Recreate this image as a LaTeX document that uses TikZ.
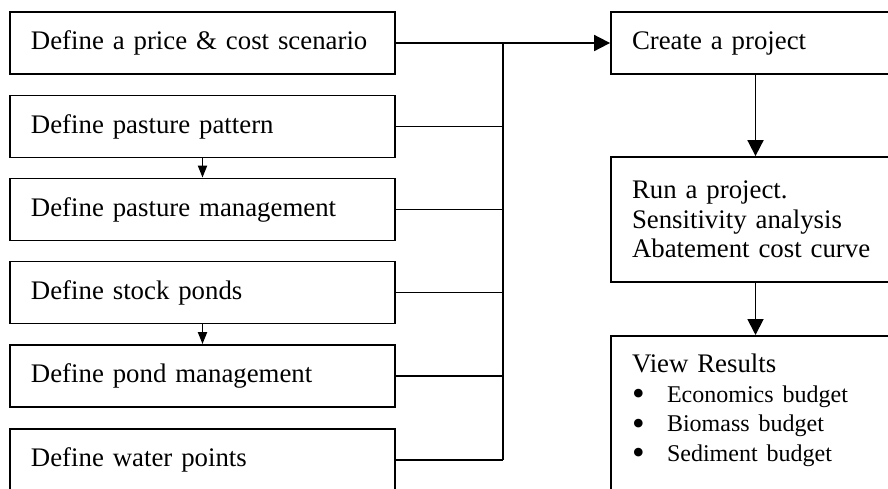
\documentclass[tikz,border=0pt]{standalone}
\usepackage{fontspec}
\usepackage{graphicx}
\setmainfont{Liberation Serif}
\usetikzlibrary{arrows.meta}
\begin{document}
\begin{tikzpicture}[x=0.5pt,y=-0.5pt]
    \tikzstyle{block}=[draw,line width=0.9pt,align=left,inner xsep=10.5pt,inner ysep=0pt,font=\fontsize{13.4}{14.75}\selectfont]
    \tikzstyle{left block}=[block,text width=171.5pt,minimum height=31pt]
    \tikzstyle{right block}=[block,text width=123.5pt]
    \tikzstyle{link}=[line width=0.9pt]
    \tikzstyle{big arrow}=[link,-{Triangle[length=8pt,width=8pt]}]
    \tikzstyle{small arrow}=[link,-{Triangle[length=6pt,width=4.5pt]}]
    \newcommand{\listitem}[1]{{\fontsize{12}{14.75}\selectfont\makebox[17.5pt][l]{\smash{\raisebox{-1.8pt}{\scalebox{1.5}{\textbullet}}}}#1}}

    \useasboundingbox (0,0) rectangle (888,488);
    \clip (0,0) rectangle (888,488);

    \node[left block] (price) at (202.5,43) {Define a price \& cost scenario};
    \node[left block] (pattern) at (202.5,126.5) {Define pasture pattern};
    \node[left block] (pasture_mgmt) at (202.5,209.5) {Define pasture management};
    \node[left block] (ponds) at (202.5,292.5) {Define stock ponds};
    \node[left block] (pond_mgmt) at (202.5,376) {Define pond management};
    \node[left block] (water) at (202.5,460) {Define water points};

    \node[right block,minimum height=31pt] (create) at (755.5,43) {Create a project};
    \node[right block,minimum height=62.5pt] (run) at (755.5,219.5) {Run a project.\\ Sensitivity analysis\\ Abatement cost curve};
    \node[right block,anchor=north,inner ysep=9pt,text depth=80pt] (view) at (755.5,335) {View Results\\ \listitem{Economics budget}\\ \listitem{Biomass budget}\\ \listitem{Sediment budget}};

    \coordinate (bus) at (503,43);

    \draw[big arrow] (price) -- (create);
    \draw[link] (pattern) -- (pattern -| bus);
    \draw[link] (pasture_mgmt) -- (pasture_mgmt -| bus);
    \draw[link] (ponds) -- (ponds -| bus);
    \draw[link] (pond_mgmt) -- (pond_mgmt -| bus);
    \draw[link] (water) -- (water -| bus);
    \draw[link] (bus) -- (water -| bus);
    \draw[small arrow] (pattern) -- (pasture_mgmt);
    \draw[small arrow] (ponds) -- (pond_mgmt);
    \draw[big arrow] (create) -- (run);
    \draw[big arrow] (run) -- (view);
\end{tikzpicture}
\end{document}
